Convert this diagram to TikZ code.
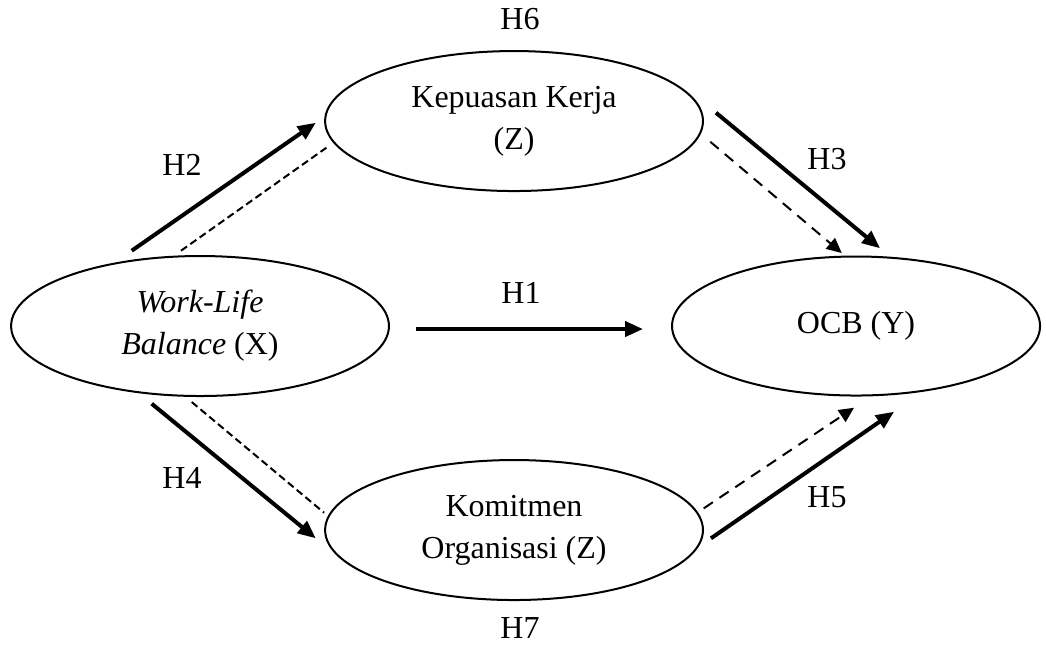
\documentclass[tikz,border=0pt]{standalone}
\usepackage{fontspec}
\setmainfont{Liberation Serif}
\usetikzlibrary{shapes.geometric, arrows.meta}

\tikzset{ell/.style={draw, ellipse, line width=1pt, inner sep=0pt, minimum width=6.64cm, minimum height=2.46cm, align=center}}
\tikzset{solidarr/.style={line width=2pt, -{Triangle[length=9pt, width=7.5pt]}}}
\tikzset{dashline/.style={line width=1pt, dash pattern=on 3.7pt off 2pt}}
\tikzset{dasharr/.style={line width=1pt, dash pattern=on 5.5pt off 4pt, -{Triangle[length=7.5pt, width=7pt]}}}

\begin{document}
\begin{tikzpicture}[font=\fontsize{16}{21}\selectfont]
    \useasboundingbox (0,0) rectangle (18.381,-11.370);

    \node[ell] (wlb) at (3.515,-5.729) {\textit{Work-Life}\\\textit{Balance} (X)};
    
    \node[ell] (kep) at ([xshift=5.518cm, yshift=3.602cm] wlb) {Kepuasan Kerja\\(Z)};
    
    \node[ell] (kom) at ([xshift=5.518cm, yshift=-3.585cm] wlb) {Komitmen\\Organisasi (Z)};
    
    \node[ell, minimum width=6.467cm, minimum height=2.443cm] (ocb) at ([xshift=11.528cm] wlb) {OCB (Y)};
    
    % labels
    \node (h6) at ([xshift=0.105cm, yshift=0.545cm] kep.north) {H6};
    \node (h7) at ([xshift=0.105cm, yshift=-0.48cm] kom.south) {H7};
    \node (h2) at ([xshift=-0.316cm, yshift=1.582cm] wlb.north) {H2};
    \node (h3) at ([xshift=-0.51cm, yshift=1.696cm] ocb.north) {H3};
    \node (h4) at ([xshift=-0.316cm, yshift=-1.423cm] wlb.south) {H4};
    \node (h5) at ([xshift=-0.51cm, yshift=-1.766cm] ocb.south) {H5};
    \node (h1) at ([xshift=2.302cm, yshift=0.58cm] wlb.east) {H1};
    
    
    \draw[solidarr] ([xshift=-1.2cm, yshift=0.076cm]wlb.north) -- ([xshift=-0.146cm, yshift=-0.03cm]kep.west);
    \draw[dashline] ([xshift=-0.334cm, yshift=0.076cm]wlb.north) -- ([xshift=0.04cm, yshift=-0.469cm]kep.west);
    
    \draw[solidarr] ([xshift=0.211cm, yshift=0.146cm]kep.east) -- ([xshift=0.422cm, yshift=0.127cm]ocb.north);
    \draw[dasharr] ([xshift=0.111cm, yshift=-0.364cm]kep.east) -- ([xshift=-0.251cm, yshift=0.044cm]ocb.north);
    
    \draw[solidarr] ([xshift=0.457cm, yshift=-0.053cm]wlb.east) -- ([xshift=-0.492cm, yshift=-0.053cm]ocb.west);
    
    \draw[solidarr] ([xshift=-0.849cm, yshift=-0.118cm]wlb.south) -- ([xshift=-0.146cm, yshift=-0.146cm]kom.west);
    \draw[dashline] ([xshift=-0.146cm, yshift=-0.088cm]wlb.south) -- ([xshift=0cm, yshift=0.304cm]kom.west);
    
    \draw[solidarr] ([xshift=0.123cm, yshift=-0.146cm]kom.east) -- ([xshift=0.668cm, yshift=-0.267cm]ocb.south);
    \draw[dasharr] ([xshift=-0.005cm, yshift=0.381cm]kom.east) -- ([xshift=-0.035cm, yshift=-0.197cm]ocb.south);
    
\end{tikzpicture}
\end{document}
